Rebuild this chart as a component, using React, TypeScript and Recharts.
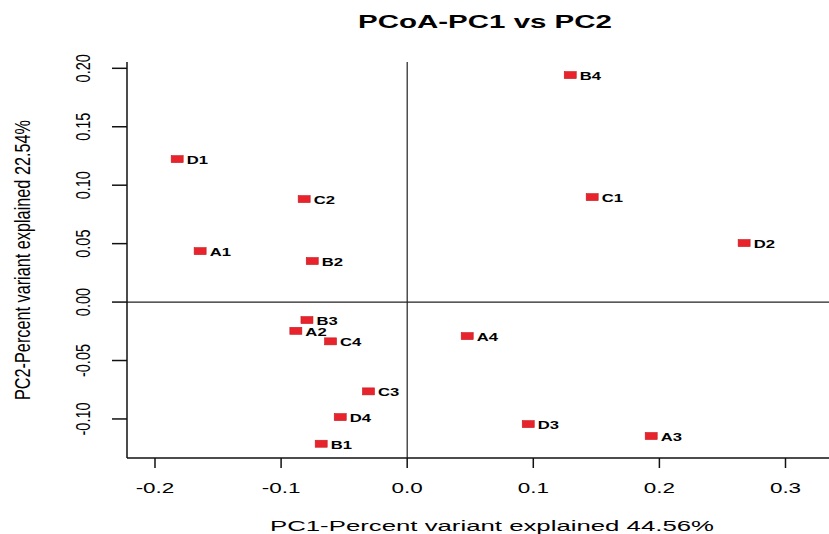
import { ScatterChart, Scatter, XAxis, YAxis, ReferenceLine } from 'recharts'

const sampleNames = ['D1', 'C2', 'A1', 'B2', 'B3', 'A2', 'C4', 'C3', 'D4', 'B1', 'A4', 'D3', 'A3', 'B4', 'C1', 'D2']
const pc1Values = [-0.1824, -0.0817, -0.1642, -0.0753, -0.0795, -0.0883, -0.0608, -0.0307, -0.0531, -0.0682, 0.0476, 0.0960, 0.1935, 0.1293, 0.1467, 0.2672]
const pc2Values = [0.1223, 0.0881, 0.0436, 0.0351, -0.0154, -0.0246, -0.0336, -0.0764, -0.0984, -0.1212, -0.0291, -0.1044, -0.1146, 0.1942, 0.0898, 0.0505]

const xTicks = [-0.2, -0.1, 0.0, 0.1, 0.2, 0.3]
const yTicks = [-0.10, -0.05, 0.00, 0.05, 0.10, 0.15, 0.20]

const data = sampleNames.map((name, i) => ({ name, x: pc1Values[i], y: pc2Values[i] }))

const FONT = '"Liberation Sans", Arial, Helvetica, sans-serif'
const STRETCH = 1.45

function PointMark(props: any) {
  const { cx, cy, payload } = props
  if (cx == null || cy == null) return null
  return (
    <g>
      <rect x={cx - 6} y={cy - 3.5} width={12} height={7} fill="#e8232b" stroke="#c41c22" strokeWidth={0.6} />
      <text
        transform={`translate(${cx + 9.5},${cy + 5}) scale(${STRETCH},1)`}
        fontFamily={FONT} fontWeight={700} fontSize={11.5} fill="#000"
      >
        {payload.name}
      </text>
    </g>
  )
}

function XTick(props: any) {
  const { x, payload } = props
  return (
    <text
      transform={`translate(${x},493) scale(${STRETCH},1)`}
      textAnchor="middle" fontFamily={FONT} fontSize={15.5} fill="#000"
    >
      {payload.value.toFixed(1)}
    </text>
  )
}

function YTick(props: any) {
  const { y, payload } = props
  return (
    <text
      transform={`translate(90,${y}) scale(${STRETCH},1) rotate(-90)`}
      textAnchor="middle" fontFamily={FONT} fontSize={14.5} fill="#000"
    >
      {payload.value.toFixed(2)}
    </text>
  )
}

export default function App() {
  return (
    <div style={{ position: 'absolute', left: 0, top: 0, width: 829, height: 534, background: '#fff', overflow: 'hidden' }}>
      <ScatterChart width={829} height={534} margin={{ top: 62, right: 0, bottom: 0, left: 0 }}>
        <XAxis
          dataKey="x" type="number" domain={[-0.2222, 0.3345]} ticks={xTicks} allowDataOverflow
          height={76} tickSize={10} tick={<XTick />}
          axisLine={{ stroke: '#111', strokeWidth: 1.5 }} tickLine={{ stroke: '#111', strokeWidth: 1.5 }}
        />
        <XAxis
          xAxisId="top" orientation="top" dataKey="x" type="number" domain={[-0.2222, 0.3345]}
          height={0} tick={false} tickLine={false} axisLine={{ stroke: '#111', strokeWidth: 1.5 }}
        />
        <YAxis
          dataKey="y" type="number" domain={[-0.1334, 0.2054]} ticks={yTicks} allowDataOverflow
          width={127} tickSize={15} tick={<YTick />}
          axisLine={{ stroke: '#111', strokeWidth: 1.5 }} tickLine={{ stroke: '#111', strokeWidth: 1.5 }}
        />
        <ReferenceLine x={0} stroke="#222" strokeWidth={1.2} />
        <ReferenceLine y={0} stroke="#222" strokeWidth={1.2} />
        <Scatter data={data} isAnimationActive={false} shape={<PointMark />} />
      </ScatterChart>
      <svg width={829} height={534} style={{ position: 'absolute', left: 0, top: 0, pointerEvents: 'none' }}>
        <text x={485} y={28} textAnchor="middle" fontFamily={FONT} fontWeight={700} fontSize={18}
          textLength={254} lengthAdjust="spacingAndGlyphs" fill="#000">
          PCoA-PC1 vs PC2
        </text>
        <text x={492} y={531} textAnchor="middle" fontFamily={FONT} fontSize={15.5}
          textLength={444} lengthAdjust="spacingAndGlyphs" fill="#000">
          PC1-Percent variant explained 44.56%
        </text>
        <text transform={`translate(29.5,260) scale(${STRETCH},1) rotate(-90)`} textAnchor="middle"
          fontFamily={FONT} fontSize={15.5} textLength={280} lengthAdjust="spacingAndGlyphs" fill="#000">
          PC2-Percent variant explained 22.54%
        </text>
      </svg>
    </div>
  )
}
